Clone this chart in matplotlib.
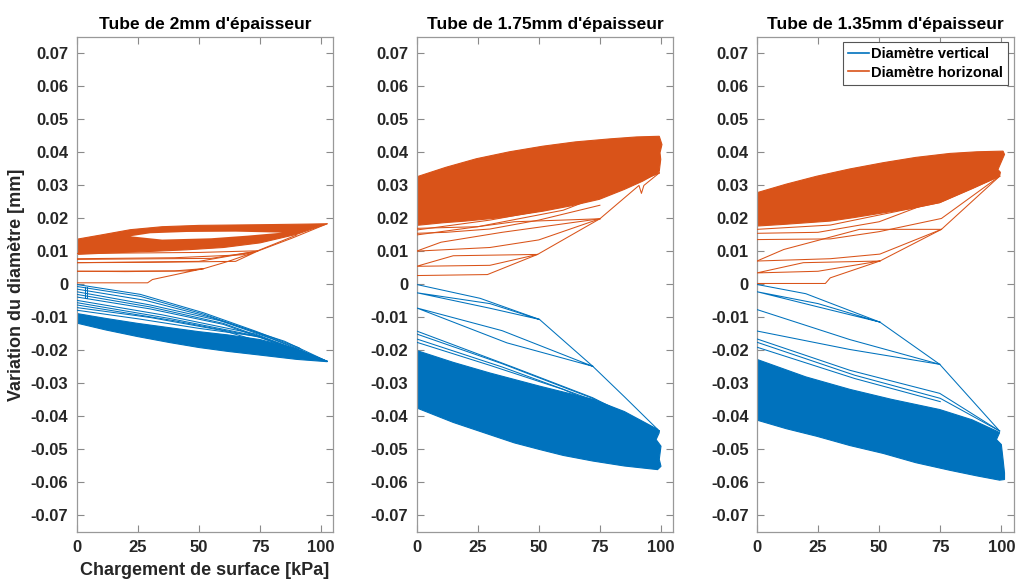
import matplotlib
matplotlib.use("Agg")
import matplotlib.pyplot as plt
from matplotlib.lines import Line2D

plt.rcParams['font.family'] = ['Liberation Sans', 'DejaVu Sans']
plt.rcParams['font.weight'] = 'bold'

BLUE = '#0072BD'
ORANGE = '#D95319'

titles = ["Tube de 2mm d'épaisseur", "Tube de 1.75mm d'épaisseur", "Tube de 1.35mm d'épaisseur"]
x_ticks = [0, 25, 50, 75, 100]
y_ticks = [-0.07, -0.06, -0.05, -0.04, -0.03, -0.02, -0.01, 0, 0.01, 0.02, 0.03, 0.04, 0.05, 0.06, 0.07]
y_tick_labels = ['-0.07', '-0.06', '-0.05', '-0.04', '-0.03', '-0.02', '-0.01', '0',
                 '0.01', '0.02', '0.03', '0.04', '0.05', '0.06', '0.07']
legend_labels = ['Diamètre vertical', 'Diamètre horizonal']
x_label = 'Chargement de surface [kPa]'
y_label = 'Variation du diamètre [mm]'

# ---------------- Tube 2 mm ----------------
t2_orange_band_x = [0, 10, 22, 35, 50, 75, 95, 102.5, 90, 75, 60, 45, 30, 15, 0]
t2_orange_band_y = [0.0137, 0.0150, 0.0166, 0.0175, 0.0179, 0.0181, 0.0183, 0.0184,
                    0.0152, 0.0126, 0.0112, 0.0105, 0.0100, 0.0096, 0.0091]
t2_orange_hole_x = [22, 30, 45, 65, 84, 70, 55, 35, 22]
t2_orange_hole_y = [0.0146, 0.0155, 0.0159, 0.0160, 0.0157, 0.0148, 0.0140, 0.0136, 0.0146]
t2_blue_band_x = [0, 12, 25, 38, 50, 62, 75, 90, 102.5, 90, 75, 62, 50, 38, 25, 12, 0]
t2_blue_band_y = [-0.0088, -0.0103, -0.0118, -0.0131, -0.0143, -0.0153, -0.0167, -0.0195, -0.0234,
                  -0.0227, -0.0214, -0.0203, -0.0191, -0.0176, -0.0158, -0.0138, -0.0117]
t2_orange_loops = [
    [(0, 0), (0, 0.0005), (29, 0.0005), (31, 0.0015), (48, 0.0042), (52, 0.0048), (45, 0.0041), (20, 0.0039), (0, 0.0040)],
    [(0, 0.0040), (40, 0.0041), (52, 0.0048), (62, 0.0070), (74, 0.0101), (65, 0.0070), (30, 0.0067), (0, 0.0066)],
    [(0, 0.0066), (50, 0.0070), (74, 0.0101), (88, 0.0140), (102.5, 0.0184)],
    [(0, 0.0076), (55, 0.0079), (74, 0.0101)],
    [(0, 0.0078), (40, 0.0081), (68, 0.0090), (74, 0.0101)],
    [(0, 0.0094), (50, 0.0097), (74, 0.0102), (90, 0.0150)],
]
t2_blue_loops = [
    [(0, 0), (26, -0.0030), (52, -0.0086), (73, -0.0141), (91, -0.0192), (92.5, -0.0202), (102.5, -0.0233)],
    [(0, -0.0006), (26, -0.0036), (52, -0.0090), (73, -0.0144), (91, -0.0195)],
    [(0, -0.0014), (28, -0.0048), (55, -0.0100), (80, -0.0165), (102.5, -0.0233)],
    [(0, -0.0022), (30, -0.0062), (60, -0.0112), (85, -0.0172), (102.5, -0.0233)],
    [(0, -0.0030), (30, -0.0068), (60, -0.0118), (90, -0.0198)],
    [(0, -0.0038), (30, -0.0074), (60, -0.0121), (90, -0.0200)],
    [(0, -0.0048), (35, -0.0092), (73, -0.0150), (102.5, -0.0233)],
    [(0, -0.0055), (38, -0.0103), (75, -0.0158)],
    [(0, -0.0062), (40, -0.0110), (75, -0.0160), (102.5, -0.0233)],
    [(0, -0.0070), (30, -0.0100), (60, -0.0140), (102.5, -0.0233)],
    [(0, -0.0078), (25, -0.0104), (50, -0.0133), (75, -0.0158)],
    [(3.5, -0.0008), (3.5, -0.0040), (4.2, -0.0040), (4.2, -0.0008)],
]

# ---------------- Tube 1.75 mm ----------------
t175_orange_band_x = [0, 12, 24.5, 38, 51.7, 65, 78.9, 90, 99.3, 100.4, 99.6, 99.9, 99.3, 98.6,
                      92.5, 85, 74.8, 63, 51.7, 34, 20, 10.9, 0]
t175_orange_band_y = [0.0326, 0.0355, 0.0381, 0.0402, 0.0419, 0.0432, 0.0441, 0.0447, 0.0449,
                      0.0424, 0.0399, 0.0379, 0.0343, 0.0338,
                      0.0313, 0.0288, 0.0258, 0.0238, 0.0222, 0.0202, 0.0192, 0.0187, 0.0179]
t175_blue_band_x = [0, 15, 29.9, 50.3, 72.1, 85, 98.6, 99.3, 98, 100, 99.3, 100,
                    98.6, 85, 72.1, 60, 50.3, 40, 29.9, 15, 0]
t175_blue_band_y = [-0.0200, -0.0236, -0.0268, -0.0308, -0.0348, -0.0385, -0.0439, -0.0449, -0.0470,
                    -0.0490, -0.0530, -0.0551,
                    -0.0561, -0.0550, -0.0535, -0.0518, -0.0500, -0.0480, -0.0455, -0.0418, -0.0374]
t175_orange_loops = [
    [(0, 0), (0, 0.0045), (0, 0.0027), (29, 0.0030), (49.5, 0.0091), (75, 0.0199),
     (91, 0.0300), (92, 0.0276), (93, 0.0300), (99.3, 0.0338)],
    [(49.5, 0.0091), (15, 0.0087), (0, 0.0055), (30, 0.0058), (49.5, 0.0091)],
    [(75, 0.0199), (40, 0.0190), (20, 0.0170), (0, 0.0150)],
    [(0, 0.0101), (30, 0.0112), (50, 0.0135), (75, 0.0199)],
    [(0, 0.0101), (10, 0.0128), (35, 0.0158), (75, 0.0199)],
    [(99.3, 0.0338), (75, 0.0262), (50, 0.0222), (30, 0.0195), (0, 0.0165)],
    [(0, 0.0155), (12, 0.0158), (30, 0.0168), (50, 0.0195), (75, 0.0240)],
    [(0, 0.0170), (25, 0.0175), (60, 0.0225), (99.3, 0.0338)],
]
t175_blue_loops = [
    [(0, 0), (26, -0.0042), (50.3, -0.0106), (72.1, -0.0248), (85, -0.0340), (99.3, -0.0444)],
    [(50.3, -0.0106), (30, -0.0072), (0, -0.0025), (30, -0.0058), (50.3, -0.0106)],
    [(72.1, -0.0248), (37, -0.0177), (0, -0.0071), (35, -0.0140), (72.1, -0.0248)],
    [(99.3, -0.0444), (72, -0.0343), (40, -0.0252), (0, -0.0141)],
    [(0, -0.0150), (35, -0.0240), (72, -0.0345), (99.3, -0.0444)],
    [(0, -0.0165), (35, -0.0250), (72, -0.0350)],
    [(0, -0.0175), (30, -0.0245), (60, -0.0318), (99.3, -0.0444)],
]

# ---------------- Tube 1.35 mm ----------------
t135_orange_band_x = [0, 12, 24.5, 38, 51.7, 65, 78.9, 90, 100.7, 101.3, 98.6, 99.6, 99.3,
                      88, 74.8, 63, 51.7, 40, 29.9, 10.9, 0]
t135_orange_band_y = [0.0278, 0.0304, 0.0328, 0.0350, 0.0369, 0.0385, 0.0397, 0.0402, 0.0404,
                      0.0394, 0.0348, 0.0340, 0.0328,
                      0.0290, 0.0248, 0.0230, 0.0217, 0.0203, 0.0192, 0.0182, 0.0177]
t135_blue_band_x = [0, 20, 38.1, 55, 74.8, 88, 98, 99.3, 98, 100, 100.7, 101.3, 101.3,
                    99.3, 90, 78.9, 65, 51.7, 38, 24.5, 12, 0]
t135_blue_band_y = [-0.0227, -0.0280, -0.0318, -0.0348, -0.0379, -0.0410, -0.0444, -0.0449, -0.0470,
                    -0.0485, -0.0530, -0.0571, -0.0591,
                    -0.0593, -0.0580, -0.0563, -0.0540, -0.0512, -0.0488, -0.0460, -0.0437, -0.0411]
t135_orange_loops = [
    [(0, 0), (0, 0.0003), (28, 0.0003), (30, 0.0020), (50.3, 0.0071), (75.5, 0.0167), (99.3, 0.0328)],
    [(50.3, 0.0071), (19, 0.0066), (0, 0.0035), (25, 0.0040), (50.3, 0.0071)],
    [(75.5, 0.0167), (42, 0.0167), (11, 0.0106), (0, 0.0071)],
    [(0, 0.0071), (30, 0.0078), (50.3, 0.0092), (75.5, 0.0167)],
    [(99.3, 0.0328), (74.8, 0.0248), (30, 0.0180), (0, 0.0167)],
    [(0, 0.0136), (30, 0.0138), (50, 0.0160), (75.5, 0.0200), (99.3, 0.0328)],
    [(0, 0.0155), (25, 0.0158), (50, 0.0190), (99.3, 0.0328)],
]
t135_blue_loops = [
    [(0, 0), (20, -0.0028), (50.3, -0.0114), (74.8, -0.0242), (99.3, -0.0444)],
    [(50.3, -0.0114), (25, -0.0068), (0, -0.0022), (25, -0.0058), (50.3, -0.0114)],
    [(0, -0.0076), (38, -0.0167), (74.8, -0.0242)],
    [(0, -0.0141), (38, -0.0197), (74.8, -0.0242)],
    [(0, -0.0165), (38, -0.0260), (74.8, -0.0330), (99.3, -0.0444)],
    [(0, -0.0175), (40, -0.0275), (75, -0.0345), (99.3, -0.0444)],
    [(0, -0.0190), (40, -0.0285), (75, -0.0355)],
]

panels = [
    (t2_orange_band_x, t2_orange_band_y, t2_blue_band_x, t2_blue_band_y, t2_orange_loops, t2_blue_loops),
    (t175_orange_band_x, t175_orange_band_y, t175_blue_band_x, t175_blue_band_y, t175_orange_loops, t175_blue_loops),
    (t135_orange_band_x, t135_orange_band_y, t135_blue_band_x, t135_blue_band_y, t135_orange_loops, t135_blue_loops),
]

fig = plt.figure(figsize=(10.16, 5.79), dpi=100)
lefts = [0.0755, 0.410, 0.745]
axes = []
for i, left in enumerate(lefts):
    ax = fig.add_axes([left, 0.0812, 0.2526, 0.855])
    axes.append(ax)
    obx, oby, bbx, bby, oloops, bloops = panels[i]
    ax.fill(obx, oby, color=ORANGE, lw=0.8, ec=ORANGE, zorder=2)
    ax.fill(bbx, bby, color=BLUE, lw=0.8, ec=BLUE, zorder=2)
    if i == 0:
        ax.fill(t2_orange_hole_x, t2_orange_hole_y, color='white', lw=0, zorder=2.5)
    for loop in oloops:
        ax.plot([p[0] for p in loop], [p[1] for p in loop], color=ORANGE, lw=0.75, zorder=3)
    for loop in bloops:
        ax.plot([p[0] for p in loop], [p[1] for p in loop], color=BLUE, lw=0.75, zorder=3)

    ax.set_xlim(0, 105)
    ax.set_ylim(-0.075, 0.075)
    ax.set_xticks(x_ticks)
    ax.set_xticklabels([str(t) for t in x_ticks])
    ax.set_yticks(y_ticks)
    ax.set_yticklabels(y_tick_labels)
    ax.tick_params(direction='in', top=True, right=True, length=5, width=0.8,
                   color='#8a8a8a', labelsize=12, labelcolor='#262626', pad=6)
    for s in ax.spines.values():
        s.set_color('#999999')
        s.set_linewidth(0.9)
    ax.set_title(titles[i], fontsize=12.5, fontweight='bold', color='black', pad=6)
    for lab in ax.get_xticklabels() + ax.get_yticklabels():
        lab.set_fontweight('bold')

axes[0].set_ylabel(y_label, fontsize=13, fontweight='bold', color='#262626', labelpad=4)
axes[0].set_xlabel(x_label, fontsize=13, fontweight='bold', color='#262626', labelpad=5)

handles = [Line2D([0], [0], color=BLUE, lw=1.2), Line2D([0], [0], color=ORANGE, lw=1.2)]
leg = axes[2].legend(handles, legend_labels, loc='upper right', fontsize=10.5,
                     frameon=True, fancybox=False, edgecolor='#555555', framealpha=1,
                     handlelength=1.4, handletextpad=0.2, borderpad=0.35, labelspacing=0.3,
                     borderaxespad=0.35)
leg.get_frame().set_linewidth(0.8)
for t in leg.get_texts():
    t.set_fontweight('bold')
    t.set_color('black')

fig.savefig('out.png', dpi=100)
